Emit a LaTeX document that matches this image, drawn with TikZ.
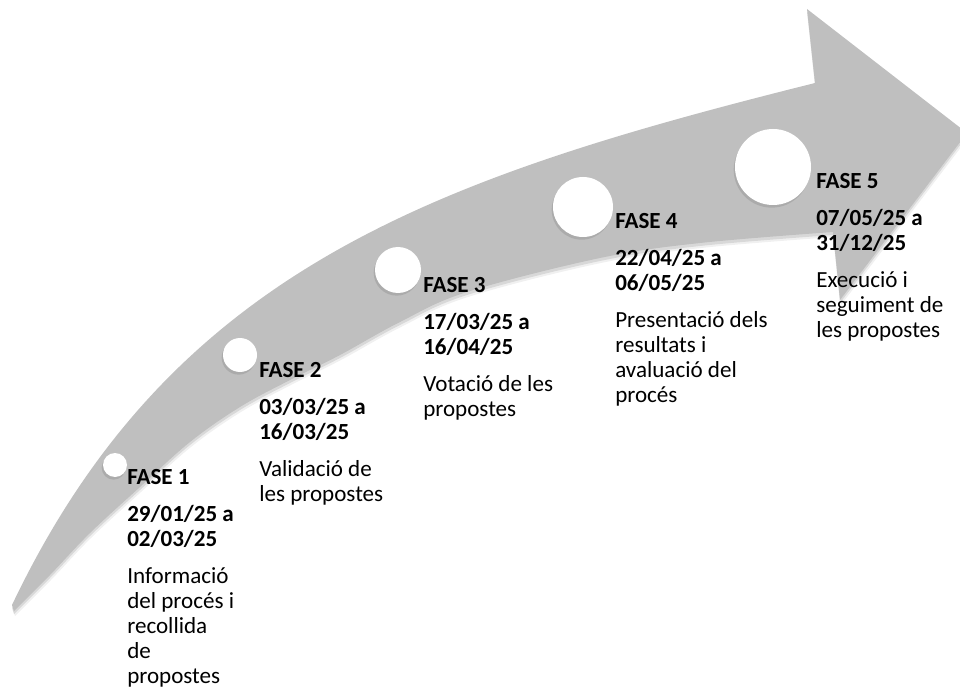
\documentclass[tikz,border=0pt]{standalone}
\usepackage{fontspec}
\setmainfont{Carlito}
\usetikzlibrary{positioning,shadows}
\definecolor{fletxa}{RGB}{191,191,191}
\tikzset{fase/.style={anchor=north west, align=left, inner sep=0pt, font=\fontsize{17.3}{18.75}\selectfont}}
\tikzset{fita/.style={circle, fill=white, inner sep=0pt, minimum size=#1, drop shadow={shadow xshift=-1pt, shadow yshift=-2pt, opacity=0.3}}}
\tikzset{ombra/.style={fill=black, fill opacity=#1}}
\newcommand\fletxapath{(12,605) .. controls (172,269) and (435,178) .. (815,83)
	-- (807,9) -- (967,133) -- (840,300) -- (833,232)
	-- plot[smooth, tension=0.6] coordinates {(833,232) (700,243) (600,258) (467,292) (400,322) (340,355) (290,380) (240,407) (190,442) (140,487) (90,533) (50,575) (14,611)} -- cycle}

\begin{document}
\begin{tikzpicture}[x=0.75pt, y=-0.75pt]
	\useasboundingbox (0,0) rectangle (960,695);
	\clip (0,0) rectangle (960,695);
	% arrow with soft shadow
	\fill[ombra=0.06, shift={(1,5)}] \fletxapath;
	\fill[ombra=0.10, shift={(0,3)}] \fletxapath;
	\fill[fletxa] \fletxapath;

	\node[fita=18pt] (f1) at (115,465) {};
	\node[fita=25.5pt] (f2) at (240,355) {};
	\node[fita=34.5pt] (f3) at (398,270) {};
	\node[fita=45pt] (f4) at (583,207) {};
	\node[fita=57pt] (f5) at (773,167) {};

	% text tops = first baseline minus cap height
	\node[fase] (t1) at (127,469.4) {\textbf{FASE 1}\\[9pt]\textbf{29/01/25 a}\\\textbf{02/03/25}\\[9pt]%
		Informació\\del procés i\\recollida\\de\\propostes};
	\node[fase] (t2) at (259,362.4) {\textbf{FASE 2}\\[9pt]\textbf{03/03/25 a}\\\textbf{16/03/25}\\[9pt]%
		Validació de\\les propostes};
	\node[fase] (t3) at (423,277.4) {\textbf{FASE 3}\\[9pt]\textbf{17/03/25 a}\\\textbf{16/04/25}\\[9pt]%
		Votació de les\\propostes};
	\node[fase] (t4) at (615,213.4) {\textbf{FASE 4}\\[9pt]\textbf{22/04/25 a}\\\textbf{06/05/25}\\[9pt]%
		Presentació dels\\resultats i\\avaluació del\\procés};
	\node[fase] (t5) at (816,173.4) {\textbf{FASE 5}\\[9pt]\textbf{07/05/25 a}\\\textbf{31/12/25}\\[9pt]%
		Execució i\\seguiment de\\les propostes};
\end{tikzpicture}
\end{document}
